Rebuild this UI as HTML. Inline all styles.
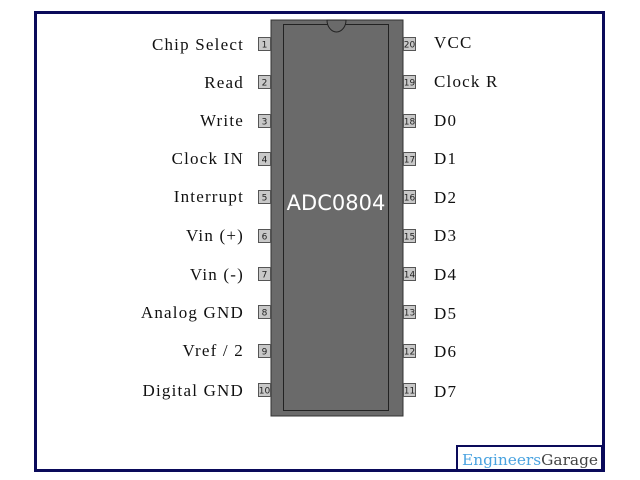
<!DOCTYPE html>
<html><head><style>
html,body{margin:0;padding:0;background:#fff;}
svg{display:block;}
.l{font-family:"Liberation Serif",serif;font-size:17px;letter-spacing:1.2px;fill:#111;}
.n{font-family:"DejaVu Sans",sans-serif;font-size:9px;fill:#222;}
</style></head><body>
<svg width="640" height="480" viewBox="0 0 640 480">
<rect x="0" y="0" width="640" height="480" fill="#fff"/>
<rect x="35.5" y="12.5" width="568" height="458" fill="none" stroke="#0a0a5a" stroke-width="3"/>
<rect x="271" y="20" width="132" height="396" fill="#6a6a6a" stroke="#333" stroke-width="1"/>
<rect x="283.5" y="24.5" width="105" height="386" fill="#6a6a6a" stroke="#222" stroke-width="1"/>
<path d="M327 20 A9.5 12 0 0 0 346 20 Z" fill="#6a6a6a" stroke="#222" stroke-width="1"/>
<text x="336" y="210" text-anchor="middle" font-family="DejaVu Sans, sans-serif" font-size="21" fill="#fff">ADC0804</text>
<g>
<rect x="258.5" y="37.5" width="12" height="13" fill="#c8c8c8" stroke="#555"/><text class="n" x="264.5" y="47.5" text-anchor="middle">1</text>
<rect x="258.5" y="75.5" width="12" height="13" fill="#c8c8c8" stroke="#555"/><text class="n" x="264.5" y="85.5" text-anchor="middle">2</text>
<rect x="258.5" y="114.5" width="12" height="13" fill="#c8c8c8" stroke="#555"/><text class="n" x="264.5" y="124.5" text-anchor="middle">3</text>
<rect x="258.5" y="152.5" width="12" height="13" fill="#c8c8c8" stroke="#555"/><text class="n" x="264.5" y="162.5" text-anchor="middle">4</text>
<rect x="258.5" y="190.5" width="12" height="13" fill="#c8c8c8" stroke="#555"/><text class="n" x="264.5" y="200.5" text-anchor="middle">5</text>
<rect x="258.5" y="229.5" width="12" height="13" fill="#c8c8c8" stroke="#555"/><text class="n" x="264.5" y="239.5" text-anchor="middle">6</text>
<rect x="258.5" y="267.5" width="12" height="13" fill="#c8c8c8" stroke="#555"/><text class="n" x="264.5" y="277.5" text-anchor="middle">7</text>
<rect x="258.5" y="305.5" width="12" height="13" fill="#c8c8c8" stroke="#555"/><text class="n" x="264.5" y="315.5" text-anchor="middle">8</text>
<rect x="258.5" y="344.5" width="12" height="13" fill="#c8c8c8" stroke="#555"/><text class="n" x="264.5" y="354.5" text-anchor="middle">9</text>
<rect x="258.5" y="383.5" width="12" height="13" fill="#c8c8c8" stroke="#555"/><text class="n" x="264.5" y="393.5" text-anchor="middle">10</text>
</g>
<g>
<rect x="403.5" y="37.5" width="12" height="13" fill="#c8c8c8" stroke="#555"/><text class="n" x="409.5" y="47.5" text-anchor="middle">20</text>
<rect x="403.5" y="75.5" width="12" height="13" fill="#c8c8c8" stroke="#555"/><text class="n" x="409.5" y="85.5" text-anchor="middle">19</text>
<rect x="403.5" y="114.5" width="12" height="13" fill="#c8c8c8" stroke="#555"/><text class="n" x="409.5" y="124.5" text-anchor="middle">18</text>
<rect x="403.5" y="152.5" width="12" height="13" fill="#c8c8c8" stroke="#555"/><text class="n" x="409.5" y="162.5" text-anchor="middle">17</text>
<rect x="403.5" y="190.5" width="12" height="13" fill="#c8c8c8" stroke="#555"/><text class="n" x="409.5" y="200.5" text-anchor="middle">16</text>
<rect x="403.5" y="229.5" width="12" height="13" fill="#c8c8c8" stroke="#555"/><text class="n" x="409.5" y="239.5" text-anchor="middle">15</text>
<rect x="403.5" y="267.5" width="12" height="13" fill="#c8c8c8" stroke="#555"/><text class="n" x="409.5" y="277.5" text-anchor="middle">14</text>
<rect x="403.5" y="305.5" width="12" height="13" fill="#c8c8c8" stroke="#555"/><text class="n" x="409.5" y="315.5" text-anchor="middle">13</text>
<rect x="403.5" y="344.5" width="12" height="13" fill="#c8c8c8" stroke="#555"/><text class="n" x="409.5" y="354.5" text-anchor="middle">12</text>
<rect x="403.5" y="383.5" width="12" height="13" fill="#c8c8c8" stroke="#555"/><text class="n" x="409.5" y="393.5" text-anchor="middle">11</text>
</g>
<g text-anchor="end">
<text class="l" x="244" y="50">Chip Select</text>
<text class="l" x="244" y="88">Read</text>
<text class="l" x="244" y="126">Write</text>
<text class="l" x="244" y="164">Clock IN</text>
<text class="l" x="244" y="202">Interrupt</text>
<text class="l" x="244" y="241">Vin (+)</text>
<text class="l" x="244" y="280">Vin (-)</text>
<text class="l" x="244" y="318">Analog GND</text>
<text class="l" x="244" y="356">Vref / 2</text>
<text class="l" x="244" y="396">Digital GND</text>
</g>
<g>
<text class="l" x="434" y="48">VCC</text>
<text class="l" x="434" y="87">Clock R</text>
<text class="l" x="434" y="126">D0</text>
<text class="l" x="434" y="164">D1</text>
<text class="l" x="434" y="203">D2</text>
<text class="l" x="434" y="241">D3</text>
<text class="l" x="434" y="280">D4</text>
<text class="l" x="434" y="319">D5</text>
<text class="l" x="434" y="357">D6</text>
<text class="l" x="434" y="397">D7</text>
</g>
<rect x="457" y="446" width="145" height="24" fill="#fff" stroke="#0a0a5a" stroke-width="2"/>
<text x="462" y="465" font-family="DejaVu Serif, serif" font-size="15" textLength="136" lengthAdjust="spacingAndGlyphs"><tspan fill="#4aa3e0">Engineers</tspan><tspan fill="#444">Garage</tspan></text>
</svg>
</body></html>
